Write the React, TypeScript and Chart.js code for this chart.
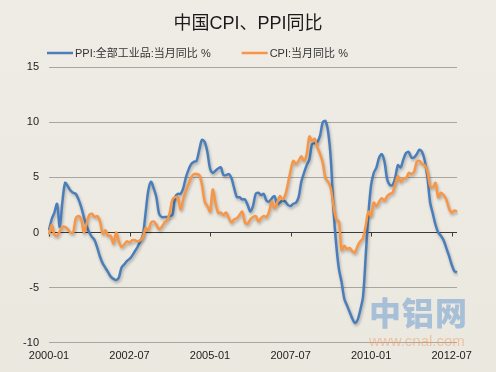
import React, { useEffect, useRef } from "react";
import { Chart, registerables } from "chart.js";

Chart.register(...registerables);

const START_YEAR = 2000;
const MONTH_COUNT = 153; // 2000-01 .. 2012-09
const CATEGORIES: string[] = [];
for (let i = 0; i < MONTH_COUNT; i++) {
  const y = START_YEAR + Math.floor(i / 12);
  const m = (i % 12) + 1;
  CATEGORIES.push(`${y}-${m < 10 ? "0" + m : m}`);
}

const TICK_LABELS = ["2000-01", "2002-07", "2005-01", "2007-07", "2010-01", "2012-07"];

const PPI_SERIES = [
  // 2000
  0.2, 1.2, 1.8, 2.6, 0.5, 2.8, 4.5, 4.2, 3.8, 3.6, 3.5, 3.0,
  // 2001
  2.3, 1.4, 0.6, 0.0, -0.4, -0.7, -1.4, -2.2, -2.8, -3.2, -3.6, -4.0,
  // 2002
  -4.2, -4.3, -4.1, -3.2, -2.9, -2.6, -2.4, -2.1, -1.7, -1.3, -0.8, -0.2,
  // 2003
  1.8, 3.8, 4.6, 4.0, 3.2, 1.7, 1.4, 1.4, 1.4, 1.5, 1.6, 3.2,
  // 2004
  3.5, 3.5, 4.0, 5.0, 5.7, 6.2, 6.4, 6.5, 7.5, 8.4, 8.2, 7.3,
  // 2005
  5.8, 5.4, 5.6, 5.8, 5.9, 5.2, 5.2, 5.3, 4.9, 4.0, 3.2, 3.2,
  // 2006
  3.0, 3.0, 2.5, 1.9, 2.4, 3.5, 3.6, 3.4, 3.5, 2.9, 2.8, 3.1,
  // 2007
  3.3, 2.6, 2.7, 2.9, 2.8, 2.5, 2.4, 2.6, 2.7, 3.2, 4.6, 5.4,
  // 2008
  6.1, 6.6, 8.0, 8.1, 8.2, 8.8, 10.0, 10.1, 9.1, 6.6, 2.0, -1.1,
  // 2009
  -3.3, -4.5, -6.0, -6.6, -7.2, -7.8, -8.2, -7.9, -7.0, -5.8, -2.1, 1.7,
  // 2010
  4.3, 5.4, 5.9, 6.8, 7.1, 6.4, 4.8, 4.3, 4.3, 5.0, 6.1, 5.9,
  // 2011
  6.6, 7.2, 7.3, 6.8, 6.8, 7.1, 7.5, 7.3, 6.5, 5.0, 2.7, 1.7,
  // 2012
  0.7, 0.0, -0.3, -0.7, -1.4, -2.1, -2.9, -3.5, -3.6,
];

const CPI_SERIES = [
  // 2000
  -0.2, 0.7, -0.2, -0.3, 0.1, 0.5, 0.5, 0.3, 0.0, 0.0, 1.3, 1.5,
  // 2001
  1.2, 0.0, 0.8, 1.6, 1.7, 1.4, 1.5, 1.0, -0.1, 0.2, -0.3, -0.3,
  // 2002
  -1.0, 0.0, -0.8, -1.3, -1.1, -0.8, -0.9, -0.7, -0.7, -0.8, -0.7, -0.4,
  // 2003
  0.4, 0.2, 0.9, 1.0, 0.7, 0.3, 0.5, 0.9, 1.1, 1.8, 3.0, 3.2,
  // 2004
  3.2, 2.1, 3.0, 3.8, 4.4, 5.0, 5.3, 5.3, 5.2, 4.3, 2.8, 2.4,
  // 2005
  1.9, 3.9, 2.7, 1.8, 1.8, 1.6, 1.8, 1.3, 0.9, 1.2, 1.3, 1.6,
  // 2006
  1.9, 0.9, 0.8, 1.2, 1.4, 1.5, 1.0, 1.3, 1.5, 1.4, 1.9, 2.8,
  // 2007
  2.2, 2.7, 3.3, 3.0, 3.4, 4.4, 5.6, 6.5, 6.2, 6.5, 6.9, 6.5,
  // 2008
  7.1, 8.7, 8.3, 8.5, 7.7, 7.1, 6.3, 4.9, 4.6, 4.0, 2.4, 1.2,
  // 2009
  1.0, -1.6, -1.2, -1.5, -1.4, -1.7, -1.8, -1.2, -0.8, -0.5, 0.6, 1.9,
  // 2010
  1.5, 2.7, 2.4, 2.8, 3.1, 2.9, 3.3, 3.5, 3.6, 4.4, 5.1, 4.6,
  // 2011
  4.9, 4.9, 5.4, 5.3, 5.5, 6.4, 6.5, 6.2, 6.1, 5.5, 4.2, 4.1,
  // 2012
  4.5, 3.2, 3.6, 3.4, 3.0, 2.2, 1.8, 2.0, 1.9,
];

const FONT = '"Liberation Sans", Arial, "Noto Sans CJK SC", sans-serif';
const BLUE = "#4a7ebb";
const ORANGE = "#f79646";

const shadowPlugin = {
  id: "lineShadow",
  beforeDatasetDraw(chart: any) {
    const ctx = chart.ctx;
    ctx.save();
    ctx.shadowColor = "rgba(0,0,0,0.28)";
    ctx.shadowBlur = 3;
    ctx.shadowOffsetX = 1;
    ctx.shadowOffsetY = 2;
  },
  afterDatasetDraw(chart: any) {
    chart.ctx.restore();
  },
};

const zeroAxisPlugin = {
  id: "zeroAxis",
  beforeDatasetsDraw(chart: any) {
    const { ctx, scales, chartArea } = chart;
    const x = scales.x;
    const y = scales.y;
    const y0 = Math.round(y.getPixelForValue(0)) + 0.5;
    ctx.save();
    ctx.strokeStyle = "#3a3a3a";
    ctx.lineWidth = 1;
    ctx.beginPath();
    ctx.moveTo(chartArea.left, y0);
    ctx.lineTo(chartArea.right, y0);
    TICK_LABELS.forEach((lab) => {
      const idx = CATEGORIES.indexOf(lab);
      const px = Math.round(x.getPixelForValue(idx)) + 0.5;
      ctx.moveTo(px, y0);
      ctx.lineTo(px, y0 + 4);
    });
    ctx.stroke();
    ctx.restore();
  },
};

// Legend drawn from the chart's own datasets (labels + colours)
const legendPlugin = {
  id: "customLegend",
  afterDraw(chart: any) {
    const ctx = chart.ctx;
    const y = 53;
    const lineW = 26;
    const gapText = 2;
    const gapItems = 31;
    let x = 47;
    ctx.save();
    ctx.font = `11px ${FONT}`;
    ctx.textBaseline = "middle";
    ctx.textAlign = "left";
    chart.data.datasets.forEach((ds: any) => {
      ctx.strokeStyle = ds.borderColor;
      ctx.lineWidth = 2.5;
      ctx.beginPath();
      ctx.moveTo(x, y);
      ctx.lineTo(x + lineW, y);
      ctx.stroke();
      ctx.fillStyle = "#333333";
      const tx = x + lineW + gapText;
      ctx.fillText(ds.label, tx, y + 0.5);
      x = tx + ctx.measureText(ds.label).width + gapItems;
    });
    ctx.restore();
  },
};

export default function App() {
  const canvasRef = useRef<HTMLCanvasElement | null>(null);

  useEffect(() => {
    document.body.style.margin = "0";
    const canvas = canvasRef.current;
    if (!canvas) return;
    const chart = new Chart(canvas, {
      type: "line",
      data: {
        labels: CATEGORIES,
        datasets: [
          {
            label: "PPI:全部工业品:当月同比 %",
            data: PPI_SERIES,
            borderColor: BLUE,
            backgroundColor: BLUE,
            borderWidth: 2.5,
            pointRadius: 0,
            tension: 0.3,
            order: 2,
          },
          {
            label: "CPI:当月同比 %",
            data: CPI_SERIES,
            borderColor: ORANGE,
            backgroundColor: ORANGE,
            borderWidth: 2.5,
            pointRadius: 0,
            tension: 0.3,
            order: 1,
          },
        ],
      },
      options: {
        animation: false,
        responsive: false,
        maintainAspectRatio: false,
        layout: { padding: { left: 0, right: 0, top: 0, bottom: 2 } },
        plugins: {
          title: {
            display: true,
            text: "中国CPI、PPI同比",
            color: "#1a1a1a",
            font: { family: FONT, size: 18, weight: "normal" },
            padding: { top: 13, bottom: 32.4 },
          },
          legend: { display: false },
          tooltip: { enabled: false },
        },
        scales: {
          x: {
            type: "category",
            offset: false,
            border: { display: false },
            grid: { display: false, drawTicks: false },
            ticks: {
              autoSkip: false,
              maxRotation: 0,
              padding: 7,
              color: "#222222",
              font: { family: FONT, size: 11 },
              callback: (_v: any, i: number) =>
                TICK_LABELS.includes(CATEGORIES[i]) ? CATEGORIES[i] : null,
            },
          },
          y: {
            min: -10,
            max: 15,
            border: { display: false },
            afterFit: (scale: any) => {
              scale.width = 49;
            },
            grid: {
              drawTicks: false,
              color: (c: any) => (c.tick && c.tick.value === 0 ? "rgba(0,0,0,0)" : "#a8a6a0"),
              lineWidth: 1,
            },
            ticks: {
              stepSize: 5,
              padding: 10,
              color: "#222222",
              font: { family: FONT, size: 11 },
            },
          },
          yRight: {
            position: "right",
            min: -10,
            max: 15,
            border: { display: false },
            grid: { display: false, drawTicks: false },
            ticks: { display: false },
            afterFit: (scale: any) => {
              scale.width = 39;
            },
          },
        },
      },
      plugins: [zeroAxisPlugin, shadowPlugin, legendPlugin],
    } as any);
    return () => chart.destroy();
  }, []);

  return (
    <div
      style={{
        position: "relative",
        width: 496,
        height: 372,
        background: "linear-gradient(180deg, #efece5 0%, #ebe8e0 100%)",
        overflow: "hidden",
      }}
    >
      <canvas ref={canvasRef} width={496} height={372} style={{ display: "block" }} />
      <div
        style={{
          position: "absolute",
          left: 369,
          top: 291,
          fontFamily: '"Noto Sans CJK SC", sans-serif',
          fontWeight: 900,
          fontSize: 32,
          lineHeight: "40px",
          letterSpacing: 1,
          color: "rgba(100,152,205,0.5)",
          pointerEvents: "none",
        }}
      >
        中铝网
      </div>
      <div
        style={{
          position: "absolute",
          left: 369,
          top: 333,
          fontFamily: '"Liberation Sans", Arial, sans-serif',
          fontSize: 15,
          lineHeight: "16px",
          color: "rgba(240,160,110,0.55)",
          pointerEvents: "none",
        }}
      >
        www.cnal.com
      </div>
    </div>
  );
}
